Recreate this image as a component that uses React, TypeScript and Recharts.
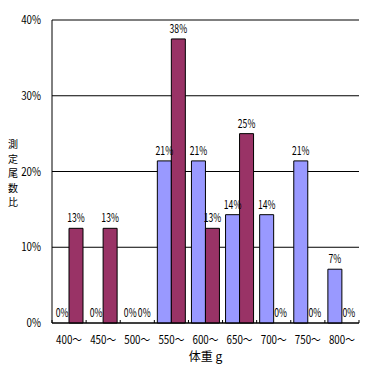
import { BarChart, Bar, XAxis, YAxis, CartesianGrid, LabelList, Cell } from 'recharts'

const categories = ['400〜', '450〜', '500〜', '550〜', '600〜', '650〜', '700〜', '750〜', '800〜']
const blueValues = [0, 0, 0, 21.4, 21.4, 14.3, 14.3, 21.4, 7.1]
const redValues = [12.5, 12.5, 0, 37.5, 12.5, 25, 0, 0, 0]
const yTicks = [0, 10, 20, 30, 40]
const yTitle = ['測', '定', '尾', '数', '比']

const data = categories.map((c, i) => ({ name: c, blue: blueValues[i], red: redValues[i] }))

const font = '"Noto Sans CJK JP", sans-serif'
const pct = (v: any) => `${Math.round(Number(v))}%`

const W = 367
const H = 367
const margin = { top: 20, right: 8, bottom: 4, left: 12 }
const yAxisW = 40
const halfBand = (W - margin.left - margin.right - yAxisW) / categories.length / 2

// zero bars get a hairline height so their "0%" label is still drawn
const zeroMin = (value: any) => (Number(value) === 0 ? 0.01 : 0)

// narrow glyphs, like the old bitmap gothic font
function ValueLabel(props: any) {
  const { x, y, width, value } = props
  if (value == null) return null
  const cx = Number(x) + Number(width) / 2
  const cy = Number(y) - 6
  return (
    <text transform={`translate(${cx},${cy}) scale(0.72,1)`} textAnchor="middle" fontSize={12} fontFamily={font} fill="#000">
      {pct(value)}
    </text>
  )
}

function XTick(props: any) {
  const { x, y, payload, index } = props
  return (
    <g>
      <line x1={x - halfBand} x2={x - halfBand} y1={y} y2={y - 3} stroke="#000" />
      {index === categories.length - 1 && <line x1={x + halfBand} x2={x + halfBand} y1={y} y2={y - 3} stroke="#000" />}
      <text transform={`translate(${x},${y + 13}) scale(0.85,1)`} dy="0.71em" textAnchor="middle" fontSize={11.5} fontFamily={font} fill="#000">
        {payload.value}
      </text>
    </g>
  )
}

function YTick(props: any) {
  const { x, y, payload } = props
  return (
    <text transform={`translate(${x},${y}) scale(0.85,1)`} dy="0.35em" textAnchor="end" fontSize={11.5} fontFamily={font} fill="#000">
      {`${payload.value}%`}
    </text>
  )
}

function YTitle() {
  return (
    <g>
      {yTitle.map((ch, i) => (
        <text key={i} x={13} y={148 + i * 14.5} textAnchor="middle" fontSize={10} fontFamily={font} fill="#000">
          {ch}
        </text>
      ))}
    </g>
  )
}

export default function App() {
  return (
    <div style={{ position: 'absolute', left: 0, top: 0, width: W, height: H, background: '#fff' }}>
      <BarChart width={W} height={H} data={data} margin={margin} barSize={14} barGap={0}>
        <CartesianGrid vertical={false} stroke="#000" strokeOpacity={1} />
        <XAxis
          dataKey="name"
          height={40}
          tickLine={false}
          tickSize={0}
          tickMargin={0}
          axisLine={{ stroke: '#000' }}
          tick={<XTick />}
          interval={0}
          label={{ value: '体重 g', position: 'insideBottom', offset: 2, fontSize: 12, fill: '#000', fontFamily: font }}
        />
        <XAxis xAxisId="top" dataKey="name" orientation="top" height={0} tick={false} tickLine={false} axisLine={{ stroke: '#888' }} />
        <YAxis
          width={yAxisW}
          domain={[0, 40]}
          ticks={yTicks}
          tickLine={false}
          tickSize={0}
          tickMargin={11}
          axisLine={{ stroke: '#000' }}
          tick={<YTick />}
          label={{ content: <YTitle /> }}
        />
        <YAxis yAxisId="right" orientation="right" width={0} tick={false} tickLine={false} axisLine={{ stroke: '#888' }} domain={[0, 40]} />
        <Bar dataKey="blue" fill="#9999FF" stroke="#000" strokeWidth={1} minPointSize={zeroMin} isAnimationActive={false}>
          {blueValues.map((v, i) => (
            <Cell key={i} stroke={v === 0 ? 'none' : '#000'} />
          ))}
          <LabelList dataKey="blue" content={<ValueLabel />} />
        </Bar>
        <Bar dataKey="red" fill="#993366" stroke="#000" strokeWidth={1} minPointSize={zeroMin} isAnimationActive={false}>
          {redValues.map((v, i) => (
            <Cell key={i} stroke={v === 0 ? 'none' : '#000'} />
          ))}
          <LabelList dataKey="red" content={<ValueLabel />} />
        </Bar>
      </BarChart>
    </div>
  )
}
